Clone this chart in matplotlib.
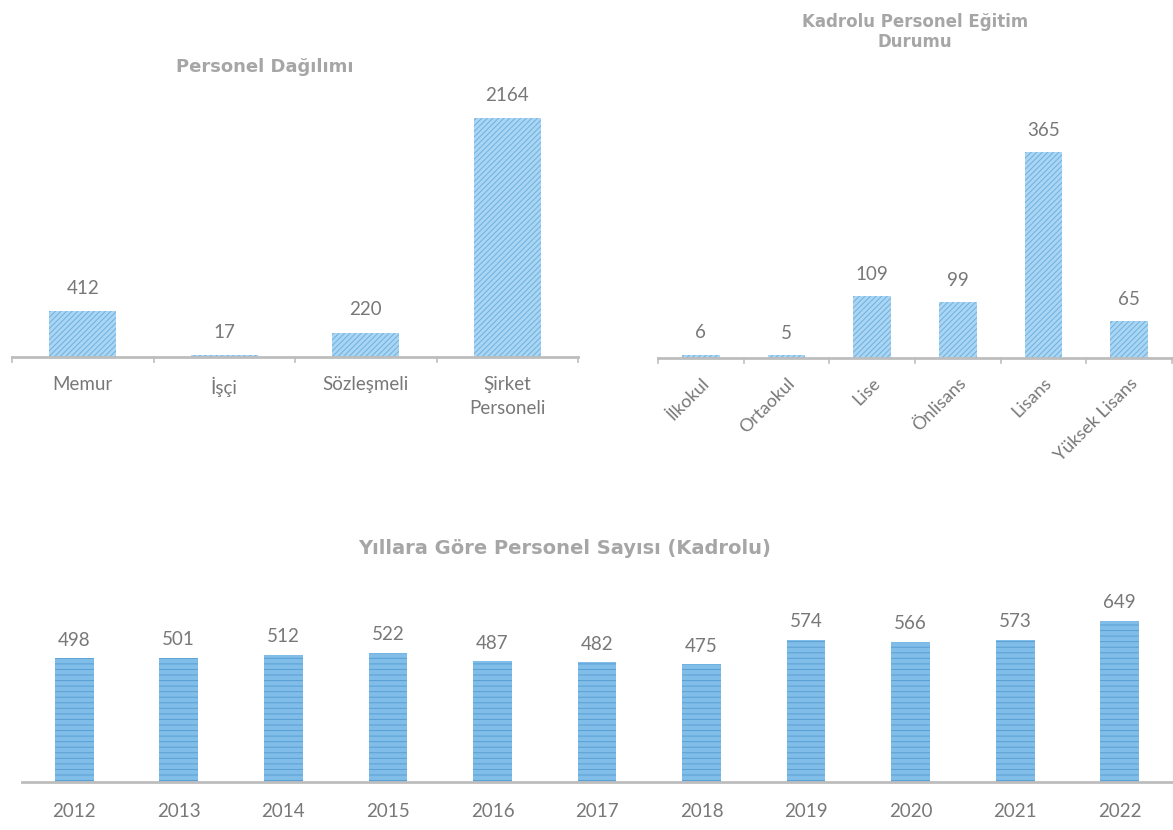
import matplotlib
matplotlib.use("Agg")
import matplotlib.pyplot as plt

# data
dagilim_cats = ["Memur", "İşçi", "Sözleşmeli", "Şirket\nPersoneli"]
dagilim_vals = [412, 17, 220, 2164]

egitim_cats = ["İlkokul", "Ortaokul", "Lise", "Önlisans", "Lisans", "Yüksek Lisans"]
egitim_vals = [6, 5, 109, 99, 365, 65]

yillar = ["2012", "2013", "2014", "2015", "2016", "2017", "2018", "2019", "2020", "2021", "2022"]
personel = [498, 501, 512, 522, 487, 482, 475, 574, 566, 573, 649]

plt.rcParams["hatch.linewidth"] = 0.7
W, H = 1173, 830
TXT = "#787878"; TTL = "#a6a6a6"; AX = "#bdbdbd"
FONT = ["Lato", "DejaVu Sans"]


def px_axes(x0, x1, ybase, ytop):
    return fig.add_axes([x0 / W, 1 - ybase / H, (x1 - x0) / W, (ybase - ytop) / H])


def style(ax, ticks=True, size=13.5, pad=14):
    for s in ["top", "right", "left"]:
        ax.spines[s].set_visible(False)
    ax.spines["bottom"].set_color(AX); ax.spines["bottom"].set_linewidth(2)
    ax.set_yticks([])
    ax.tick_params(axis="x", length=0, colors=TXT, labelsize=size, pad=pad)
    if ticks:
        n = len(ax.get_xticks())
        for b in [i - 0.5 for i in range(n + 1)]:
            ax.plot([b, b], [0, -0.018], transform=ax.get_xaxis_transform(), color=AX, lw=1.2, clip_on=False)
    for lab in ax.get_xticklabels():
        lab.set_family(FONT)


def labels(ax, xs, vals, off):
    for x, v in zip(xs, vals):
        ax.text(x, v + off, str(v), ha="center", va="bottom", color=TXT, fontsize=13.5, family=FONT)


fig = plt.figure(figsize=(W / 100, H / 100), dpi=100)

# top left
ax1 = px_axes(12, 578, 357, 100)
x1 = range(len(dagilim_cats))
ax1.bar(x1, dagilim_vals, width=0.47, color="#aad6f3", edgecolor="#6cb0e0", hatch="//////", linewidth=0)
ax1.set_xlim(-0.5, len(dagilim_cats) - 0.5); ax1.set_ylim(0, 257 / 239 * 2164)
ax1.set_xticks(list(x1)); ax1.set_xticklabels(dagilim_cats, linespacing=1.5)
labels(ax1, x1, dagilim_vals, 2164 * 0.06)
style(ax1)
fig.text(265 / W, 1 - 67 / H, "Personel Dağılımı", ha="center", va="center", color=TTL, fontsize=13, fontweight="bold", family=["DejaVu Sans"])

# top right
ax2 = px_axes(658, 1172, 358, 100)
x2 = range(len(egitim_cats))
ax2.bar(x2, egitim_vals, width=0.44, color="#aad6f3", edgecolor="#6cb0e0", hatch="//////", linewidth=0)
ax2.set_xlim(-0.5, len(egitim_cats) - 0.5); ax2.set_ylim(0, 258 / 206 * 365)
ax2.set_xticks(list(x2)); ax2.set_xticklabels(egitim_cats, rotation=45, ha="right", rotation_mode="anchor")
labels(ax2, x2, egitim_vals, 365 * 0.065)
style(ax2, size=13, pad=12)
fig.text(915 / W, 1 - 32 / H, "Kadrolu Personel Eğitim\nDurumu", ha="center", va="center", color=TTL, fontsize=12, fontweight="bold", family=["DejaVu Sans"], linespacing=1.2)

# bottom
ax3 = px_axes(22, 1172, 782, 580)
x3 = range(len(yillar))
ax3.bar(x3, personel, width=0.37, color="#80bde9", edgecolor="#5a9fd3", hatch="---", linewidth=0)
ax3.set_xlim(-0.5, len(yillar) - 0.5); ax3.set_ylim(0, 202 / 161 * 649)
ax3.set_xticks(list(x3)); ax3.set_xticklabels(yillar)
labels(ax3, x3, personel, 649 * 0.06)
style(ax3, ticks=False, pad=15)
fig.text(565 / W, 1 - 548 / H, "Yıllara Göre Personel Sayısı (Kadrolu)", ha="center", va="center", color=TTL, fontsize=14, fontweight="bold", family=["DejaVu Sans"])

fig.savefig("out.png", dpi=100)
